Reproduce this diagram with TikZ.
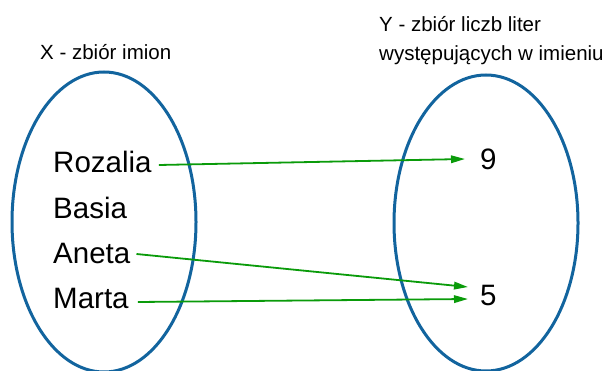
\documentclass[tikz,border=0pt]{standalone}
\usepackage{fontspec}
\setmainfont{Liberation Sans}
\usetikzlibrary{arrows.meta}
\definecolor{setblue}{RGB}{18,100,158}
\definecolor{mapgreen}{RGB}{10,155,10}
\tikzset{
  setoval/.style={draw=setblue, line width=3pt},
  caption/.style={anchor=base west, inner sep=0pt, font=\fontsize{20.5}{24}\selectfont},
  elem/.style={anchor=base west, inner sep=0pt, font=\fontsize{29.5}{34}\selectfont},
  maps/.style={draw=mapgreen, line width=1.8pt, -{Triangle[length=14pt,width=7.5pt]}}
}
\begin{document}
\begin{tikzpicture}[x=1pt, y=-1pt]
  \useasboundingbox (0,0) rectangle (609,371);

  % the two sets
  \draw[setoval] (104,222) ellipse [x radius=92, y radius=150];
  \draw[setoval] (486,223) ellipse [x radius=92, y radius=148];

  % set captions
  \node[caption] (capx) at (40,60) {X - zbiór imion};
  \node[caption] (capy1) at (379,32) {Y - zbiór liczb liter};
  \node[caption] (capy2) at (379,61) {występujących w imieniu};

  % elements of X
  \node[elem] (roz) at (53,173) {Rozalia};
  \node[elem] (bas) at (53,218) {Basia};
  \node[elem] (ane) at (53,263) {Aneta};
  \node[elem] (mar) at (53,308) {Marta};

  % elements of Y
  \node[elem] (nine) at (480,170) {9};
  \node[elem] (five) at (480,305) {5};

  % arrow end points next to the labels (shifts are upward)
  \coordinate (rozout) at ([xshift=7pt, yshift=8pt]roz.base east);
  \coordinate (aneout) at ([xshift=6pt, yshift=9pt]ane.base east);
  \coordinate (marout) at ([xshift=9pt, yshift=6pt]mar.base east);
  \coordinate (ninein) at ([xshift=-15pt, yshift=11pt]nine.base west);
  \coordinate (fivein1) at ([xshift=-12pt, yshift=18pt]five.base west);
  \coordinate (fivein2) at ([xshift=-12pt, yshift=6pt]five.base west);

  % the mapping
  \draw[maps] (rozout) -- (ninein);
  \draw[maps] (aneout) -- (fivein1);
  \draw[maps] (marout) -- (fivein2);
\end{tikzpicture}
\end{document}
